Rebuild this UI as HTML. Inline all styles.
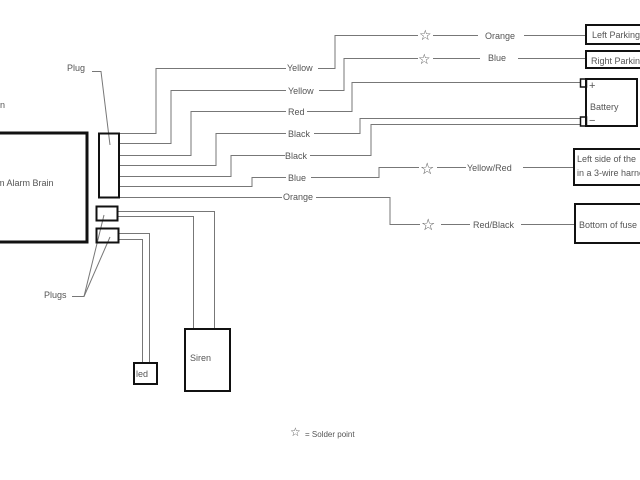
<!DOCTYPE html>
<html><head><meta charset="utf-8"><style>
html,body{margin:0;padding:0;background:#fff;width:640px;height:480px;overflow:hidden}
svg text{font-family:"Liberation Sans",sans-serif;font-size:9px;fill:#555}
</style></head><body>
<svg width="640" height="480" viewBox="0 0 640 480" xmlns="http://www.w3.org/2000/svg">
<g fill="none" stroke="#777" stroke-width="1">
<!-- plug wires -->
<polyline points="119,133.5 156,133.5 156,68.5 286,68.5"/>
<polyline points="318,68.5 335,68.5 335,35.5 418,35.5"/>
<polyline points="433,35.5 478,35.5"/><polyline points="524,35.5 585,35.5"/>
<polyline points="119,143.5 171,143.5 171,90.5 286,90.5"/>
<polyline points="319,90.5 344,90.5 344,58.5 418,58.5"/>
<polyline points="433,58.5 480,58.5"/><polyline points="518,58.5 585,58.5"/>
<polyline points="119,155.5 191,155.5 191,111.5 286,111.5"/>
<polyline points="307,111.5 352,111.5 352,82.5 580,82.5"/>
<polyline points="119,165.5 216,165.5 216,133.5 286,133.5"/>
<polyline points="314,133.5 360,133.5 360,118.5 580,118.5"/>
<polyline points="119,176.5 231,176.5 231,155.5 285,155.5"/>
<polyline points="310,155.5 371,155.5 371,124.5 580,124.5"/>
<polyline points="119,186.5 252,186.5 252,177.5 286,177.5"/>
<polyline points="311,177.5 379,177.5 379,167.5 419,167.5"/>
<polyline points="437,167.5 466,167.5"/><polyline points="523,167.5 573,167.5"/>
<polyline points="119,197.5 282,197.5"/>
<polyline points="316,197.5 390,197.5 390,224.5 420,224.5"/>
<polyline points="441,224.5 470,224.5"/><polyline points="521,224.5 575,224.5"/>
<!-- siren / led wires -->
<polyline points="118,211.5 214.5,211.5 214.5,328"/>
<polyline points="118,216.5 193.5,216.5 193.5,328"/>
<polyline points="118,233.5 149.5,233.5 149.5,363"/>
<polyline points="118,239.5 142.5,239.5 142.5,363"/>
<!-- callouts -->
<polyline points="92,71.5 101,71.5 110,145"/>
<polyline points="72,296.5 84,296.5 104,215"/>
<polyline points="84,296.5 110,237"/>
</g>
<g fill="none" stroke="#111" stroke-width="2">
<rect x="-5" y="133" width="92" height="109" stroke-width="3"/>
<rect x="99" y="133.5" width="20" height="64"/>
<rect x="96.5" y="206.5" width="21" height="14"/>
<rect x="96.5" y="228.5" width="22" height="14"/>
<rect x="185" y="329" width="45" height="62"/>
<rect x="134" y="363" width="23" height="21"/>
<rect x="586" y="25" width="60" height="19"/>
<rect x="586" y="51" width="60" height="17"/>
<rect x="586" y="79" width="51" height="47"/>
<rect x="580.5" y="79" width="6" height="8" stroke-width="1.5"/>
<rect x="580.5" y="117" width="6" height="9" stroke-width="1.5"/>
<rect x="574" y="149" width="70" height="36"/>
<rect x="575" y="204" width="70" height="39"/>
</g>
<g font-size="14" fill="#666" style="font-family:'DejaVu Sans',sans-serif">
<text x="419" y="40" style="font-size:14px;font-family:'DejaVu Sans',sans-serif">☆</text>
<text x="418" y="64" style="font-size:14px;font-family:'DejaVu Sans',sans-serif">☆</text>
<text x="420" y="174" style="font-size:16px;font-family:'DejaVu Sans',sans-serif">☆</text>
<text x="421" y="230" style="font-size:16px;font-family:'DejaVu Sans',sans-serif">☆</text>
<text x="290" y="436" style="font-size:12px;font-family:'DejaVu Sans',sans-serif">☆</text>
</g>
<text x="287" y="71">Yellow</text>
<text x="288" y="94">Yellow</text>
<text x="288" y="115">Red</text>
<text x="288" y="137">Black</text>
<text x="285" y="159">Black</text>
<text x="288" y="181">Blue</text>
<text x="283" y="200">Orange</text>
<text x="485" y="39">Orange</text>
<text x="488" y="61">Blue</text>
<text x="467" y="171">Yellow/Red</text>
<text x="473" y="228">Red/Black</text>
<text x="592" y="38">Left Parking</text>
<text x="591" y="64">Right Parking</text>
<text x="589" y="89" style="font-size:11px">+</text>
<text x="590" y="110">Battery</text>
<text x="589" y="124" style="font-size:11px">−</text>
<text x="577" y="162">Left side of the</text>
<text x="577" y="176">in a 3-wire harness</text>
<text x="579" y="228">Bottom of fuse</text>
<text x="67" y="71">Plug</text>
<text x="44" y="298">Plugs</text>
<text x="-5" y="108">on</text>
<text x="-3" y="186">m Alarm Brain</text>
<text x="190" y="361">Siren</text>
<text x="136" y="377">led</text>
<text x="305" y="437" style="font-size:8px">= Solder point</text>
</svg>
</body></html>
